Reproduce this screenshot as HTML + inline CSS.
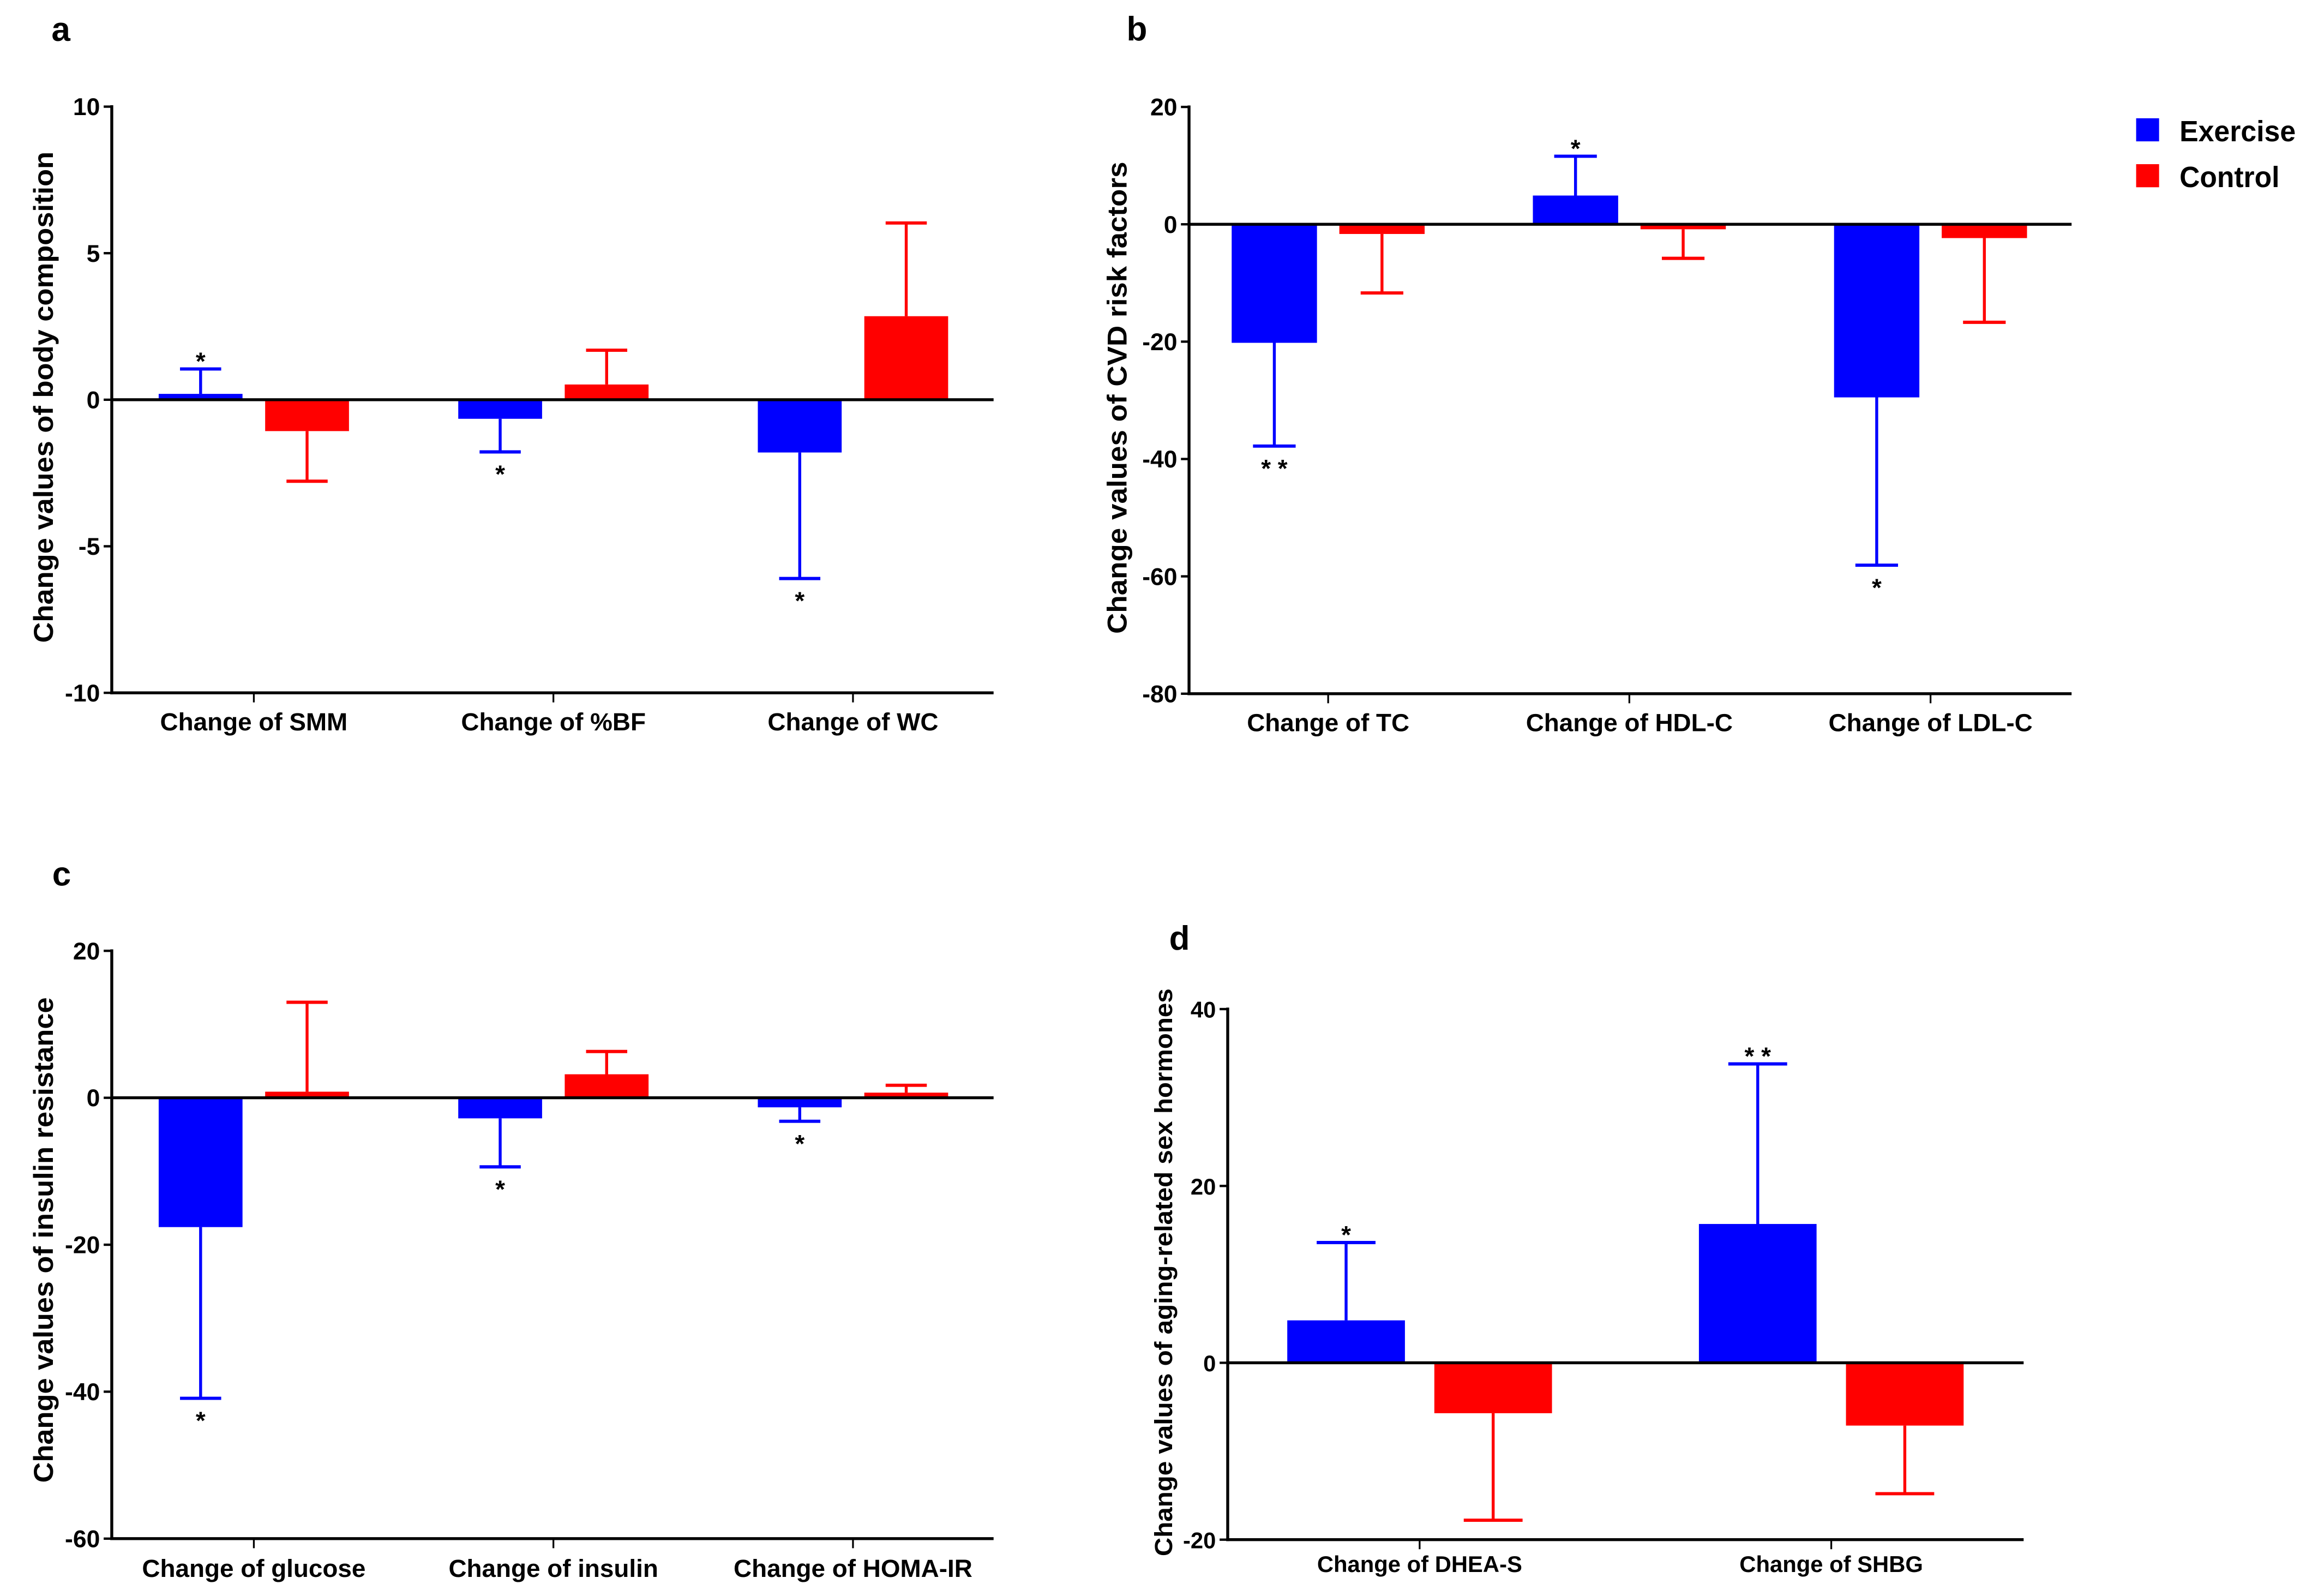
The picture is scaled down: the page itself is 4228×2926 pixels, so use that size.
<!DOCTYPE html>
<html><head><meta charset="utf-8"><style>
html,body{margin:0;padding:0;background:#fff;}
svg{display:block;font-family:"Liberation Sans",Arial,sans-serif;}
</style></head><body>
<svg id="fig" xmlns="http://www.w3.org/2000/svg" width="4228" height="2926" viewBox="0 0 1568 1085" preserveAspectRatio="none">
<rect x="0" y="0" width="1568" height="1085" fill="#fff"/>
<g>
<rect x="1452.5" y="80.4" width="15.6" height="15.7" fill="#0000ff"/>
<text x="1482" y="96" font-size="20" font-weight="bold" textLength="79" lengthAdjust="spacingAndGlyphs">Exercise</text>
<rect x="1452.5" y="111.6" width="15.6" height="15.7" fill="#ff0000"/>
<text x="1482" y="127.2" font-size="20" font-weight="bold" textLength="68" lengthAdjust="spacingAndGlyphs">Control</text>
</g>
</svg>
<script>
// Panel a: body composition
const aCats = ["Change of SMM", "Change of %BF", "Change of WC"];
const aExercise = [0.2, -0.65, -1.8];
const aExerciseErr = [1.05, -1.78, -6.1];
const aControl = [-1.07, 0.52, 2.85];
const aControlErr = [-2.78, 1.69, 6.03];
const aSigEx = ["*", "*", "*"];
const aTicks = [10, 5, 0, -5, -10];
// Panel b: CVD risk factors
const bCats = ["Change of TC", "Change of HDL-C", "Change of LDL-C"];
const bExercise = [-20.2, 4.9, -29.5];
const bExerciseErr = [-37.8, 11.6, -58.1];
const bControl = [-1.65, -0.85, -2.35];
const bControlErr = [-11.7, -5.8, -16.7];
const bSigEx = ["* *", "*", "*"];
const bTicks = [20, 0, -20, -40, -60, -80];
// Panel c: insulin resistance
const cCats = ["Change of glucose", "Change of insulin", "Change of HOMA-IR"];
const cExercise = [-17.6, -2.8, -1.3];
const cExerciseErr = [-40.9, -9.4, -3.2];
const cControl = [0.83, 3.2, 0.7];
const cControlErr = [13.0, 6.3, 1.7];
const cSigEx = ["*", "*", "*"];
const cTicks = [20, 0, -20, -40, -60];
// Panel d: sex hormones
const dCats = ["Change of DHEA-S", "Change of SHBG"];
const dExercise = [4.8, 15.7];
const dExerciseErr = [13.6, 33.8];
const dControl = [-5.7, -7.1];
const dControlErr = [-17.8, -14.8];
const dSigEx = ["*", "* *"];
const dTicks = [40, 20, 0, -20];

const NS = "http://www.w3.org/2000/svg";
const svg = document.getElementById('fig');
function mk(tag, attrs, parent){
  const e = document.createElementNS(NS, tag);
  for (const k in attrs) e.setAttribute(k, attrs[k]);
  (parent||svg).appendChild(e);
  return e;
}

function panel(cfg){
  const g = mk('g', {});
  
  
  const min = cfg.ticks[cfg.ticks.length-1], max = cfg.ticks[0];
  const y = v => cfg.yTop + (max - v) / (max - min) * (cfg.yBot - cfg.yTop);
  const xc = i => cfg.x0 + cfg.pad + i * cfg.step;

  // letter
  const L = mk('text', {x: cfg.lx, y: cfg.ly, 'font-size': 23, 'font-weight': 'bold'}, g);
  
  
  L.textContent = cfg.id;

  // y title
  const T = mk('text', {x: 0, y: 0, 'font-size': cfg.titleSize, 'font-weight': 'bold', 'text-anchor': 'middle',
    transform: 'translate(' + cfg.tx + ',' + cfg.tc + ') rotate(-90)', textLength: cfg.tl, lengthAdjust: 'spacingAndGlyphs'}, g);
  
  
  T.textContent = cfg.title;

  // bars
  const series = [
    {vals: cfg.ex, err: cfg.exErr, color: '#0000ff', off: -cfg.off, name: 'exercise', sig: cfg.sig},
    {vals: cfg.ct, err: cfg.ctErr, color: '#ff0000', off: cfg.off, name: 'control', sig: null}
  ];
  const y0 = y(0);
  series.forEach(s => {
    s.vals.forEach((v, i) => {
      const cx = xc(i) + s.off;
      const top = Math.min(y(v), y0), h = Math.abs(y(v) - y0);
      const r = mk('rect', {x: cx - cfg.barW/2, y: top, width: cfg.barW, height: h, fill: s.color}, g);
      
      
      const ye = y(s.err[i]);
      const e1 = mk('line', {x1: cx, x2: cx, y1: y(v), y2: ye, stroke: s.color, 'stroke-width': 2}, g);
      
      
      const e2 = mk('line', {x1: cx - cfg.cap/2, x2: cx + cfg.cap/2, y1: ye, y2: ye, stroke: s.color, 'stroke-width': 2.2}, g);
      
      
      if (s.sig && s.sig[i]) {
        const up = s.err[i] > v;
        const st = mk('text', {x: cx, y: up ? ye + 0.5 : ye + 21, 'font-size': 17, 'font-weight': 'bold', 'text-anchor': 'middle'}, g);
        
        
        st.textContent = s.sig[i];
      }
    });
  });

  // axes
  const ya = mk('line', {x1: cfg.x0, x2: cfg.x0, y1: cfg.yTop - 1, y2: cfg.yBot + 1, stroke: '#000', 'stroke-width': 2}, g);
  
  
  const xa = mk('line', {x1: cfg.x0 - 1, x2: cfg.x1, y1: cfg.yBot, y2: cfg.yBot, stroke: '#000', 'stroke-width': 2}, g);
  
  
  const zl = mk('line', {x1: cfg.x0, x2: cfg.x1, y1: y0, y2: y0, stroke: '#000', 'stroke-width': 2}, g);
  
  

  cfg.ticks.forEach(t => {
    const yy = y(t);
    const tk = mk('line', {x1: cfg.x0 - 5.5, x2: cfg.x0, y1: yy, y2: yy, stroke: '#000', 'stroke-width': 1.6}, g);
    
    
    const tl = mk('text', {x: cfg.x0 - 8, y: yy + 5.8, 'font-size': cfg.tickSize, 'font-weight': 'bold', 'text-anchor': 'end'}, g);
    
    
    tl.textContent = String(t);
  });
  cfg.cats.forEach((c, i) => {
    const xx = xc(i);
    const tk = mk('line', {x1: xx, x2: xx, y1: cfg.yBot, y2: cfg.yBot + 6.5, stroke: '#000', 'stroke-width': 1.2}, g);
    
    
    const cl = mk('text', {x: xx, y: cfg.yBot + cfg.catDy, 'font-size': cfg.catSize, 'font-weight': 'bold', 'text-anchor': 'middle'}, g);
    
    
    cl.textContent = c;
  });
}

panel({id:'a', cats:aCats, ex:aExercise, exErr:aExerciseErr, ct:aControl, ctErr:aControlErr, sig:aSigEx, ticks:aTicks,
  x0:76, x1:675.6, yTop:72.5, yBot:471, pad:96.6, step:203.7, barW:57, off:36.2, cap:28,
  lx:35, ly:27.8, title:'Change values of body composition', titleSize:18.5, tx:36, tc:270, tl:334,
  tickSize:16.5, catSize:17, catDy:25.5});
panel({id:'b', cats:bCats, ex:bExercise, exErr:bExerciseErr, ct:bControl, ctErr:bControlErr, sig:bSigEx, ticks:bTicks,
  x0:808.5, x1:1408.6, yTop:72.7, yBot:471.6, pad:94.6, step:204.8, barW:58, off:36.6, cap:29,
  lx:766, ly:27.5, title:'Change values of CVD risk factors', titleSize:18.5, tx:766, tc:270.4, tl:321,
  tickSize:16.5, catSize:17, catDy:25.5});
panel({id:'c', cats:cCats, ex:cExercise, exErr:cExerciseErr, ct:cControl, ctErr:cControlErr, sig:cSigEx, ticks:cTicks,
  x0:76, x1:675.6, yTop:646.4, yBot:1046, pad:96.6, step:203.7, barW:57, off:36.2, cap:28,
  lx:35.5, ly:602, title:'Change values of insulin resistance', titleSize:18.5, tx:36, tc:843, tl:330,
  tickSize:16.5, catSize:17, catDy:26});
panel({id:'d', cats:dCats, ex:dExercise, exErr:dExerciseErr, ct:dControl, ctErr:dControlErr, sig:dSigEx, ticks:dTicks,
  x0:834.8, x1:1376, yTop:686, yBot:1046.7, pad:130.5, step:279.9, barW:80, off:50, cap:40,
  lx:795, ly:645.6, title:'Change values of aging-related sex hormones', titleSize:17, tx:797, tc:865, tl:386,
  tickSize:15.5, catSize:15.5, catDy:22});
</script>
</body></html>
